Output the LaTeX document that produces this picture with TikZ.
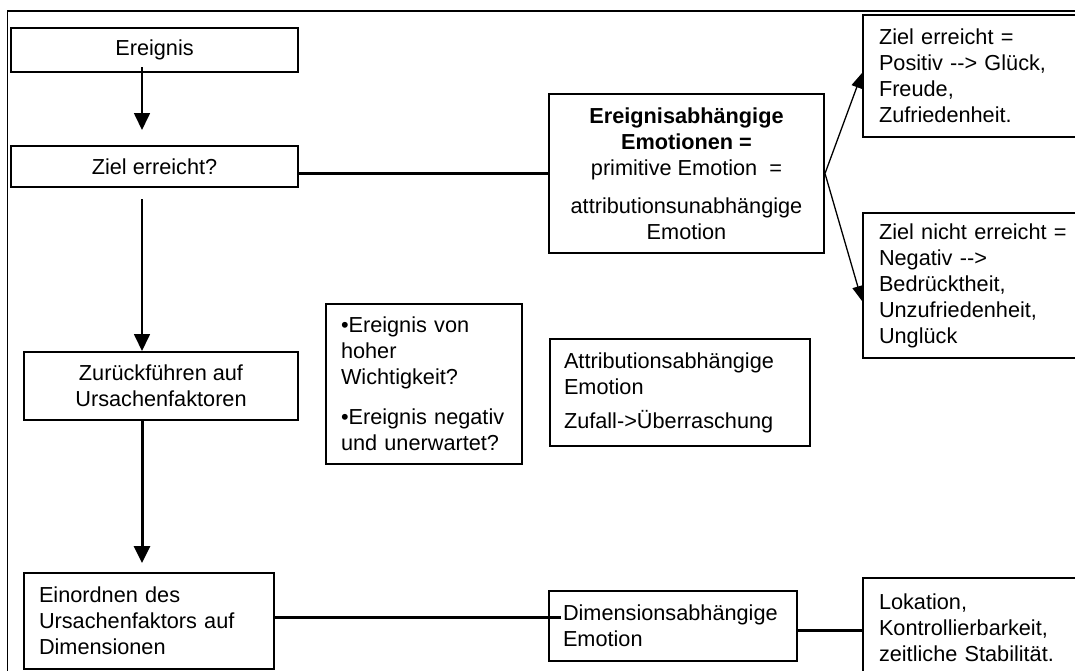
\documentclass[tikz,border=0pt]{standalone}
\usepackage{fontspec}
\setmainfont{Liberation Sans}
\usetikzlibrary{arrows.meta}

\begin{document}
\begin{tikzpicture}[x=1pt,y=-1pt,
    box/.style={draw,line width=2pt,anchor=north west,inner sep=0pt,align=center,font=\boxfont},
    leftbox/.style={box,align=left},
    arr/.style={-{Triangle[length=17pt,width=16pt]}},
    thinarr/.style={line width=1.3pt,-{Triangle[length=15pt,width=11pt]}},
    link/.style={line width=3pt}]
    \providecommand{\boxfont}{\fontsize{21.7pt}{26pt}\selectfont}
    \useasboundingbox (0,0) rectangle (1075,670);
    \fill[white] (0,0) rectangle (1075,670);
    \clip (0,0) rectangle (1075,670);
    % frame, cut off at the right and bottom
    \draw[line width=1.5pt] (1085,11) -- (7.5,11) -- (7.5,685);
    \coordinate (axis) at (142,0);
    % left column
    \node[box,minimum width=287pt,minimum height=44pt] (ereignis) at (10,27) {Ereignis};
    \node[box,minimum width=287pt,minimum height=41pt] (ziel) at (10,145) {Ziel erreicht?};
    \node[box,minimum width=274pt,minimum height=68pt] (zurueck) at (23,351) {Zurückführen auf\\Ursachenfaktoren};
    \node[leftbox,text width=220pt,inner xsep=15pt,minimum height=96pt] (einordnen) at (23,572) {Einordnen des\\Ursachenfaktors auf\\Dimensionen};
    % middle
    \node[leftbox,text width=166pt,inner xsep=15pt,minimum height=160pt] (fragen) at (325,303) {•Ereignis von\\hoher\\Wichtigkeit?\\[14pt]•Ereignis negativ\\und unerwartet?};
    \node[box,minimum width=275pt,minimum height=159pt] (ereignisemo) at (548,93) {\textbf{Ereignisabhängige}\\\textbf{Emotionen =}\\primitive Emotion~~=\\[12pt]attributionsunabhängige\\Emotion};
    \node[leftbox,text width=232pt,inner xsep=14pt,minimum height=107pt] (attrib) at (549,338) {Attributionsabhängige\\Emotion\\[8pt]Zufall->Überraschung};
    \node[leftbox,text width=220pt,inner xsep=14pt,minimum height=70pt] (dimemo) at (548,590) {Dimensionsabhängige\\Emotion};
    % right column
    \node[leftbox,text width=196pt,inner xsep=16pt,minimum height=122pt] (positiv) at (862,14) {Ziel erreicht =\\Positiv -{}-> Glück,\\Freude,\\Zufriedenheit.};
    \node[leftbox,text width=196pt,inner xsep=16pt,minimum height=145pt] (negativ) at (862,212) {Ziel nicht erreicht =\\Negativ -{}->\\Bedrücktheit,\\Unzufriedenheit,\\Unglück};
    \node[leftbox,text width=196pt,inner xsep=16pt,minimum height=100pt] (lokation) at (862,577) {Lokation,\\Kontrollierbarkeit,\\zeitliche Stabilität.};
    % connectors
    \draw[arr,line width=1.7pt,shorten <=-6pt,shorten >=15pt] (axis |- ereignis.south) -- (axis |- ziel.north);
    \draw[arr,line width=1.7pt,shorten <=11pt] (axis |- ziel.south) -- (axis |- zurueck.north);
    \draw[arr,line width=3pt,shorten >=9pt] (axis |- zurueck.south) -- (axis |- einordnen.north);
    \draw[link] (ziel.east |- ereignisemo.west) -- (ereignisemo.west);
    \draw[thinarr] (ereignisemo.east) -- ([yshift=3pt]positiv.west);
    \draw[thinarr] (ereignisemo.east) -- ([yshift=-15.5pt]negativ.west);
    \draw[link,shorten >=-13pt] ([yshift=4pt]einordnen.east) -- ([yshift=4pt]einordnen.east -| dimemo.west);
    \draw[link] ([yshift=-4pt]dimemo.east) -- ([yshift=-4pt]dimemo.east -| lokation.west);
\end{tikzpicture}
\end{document}
